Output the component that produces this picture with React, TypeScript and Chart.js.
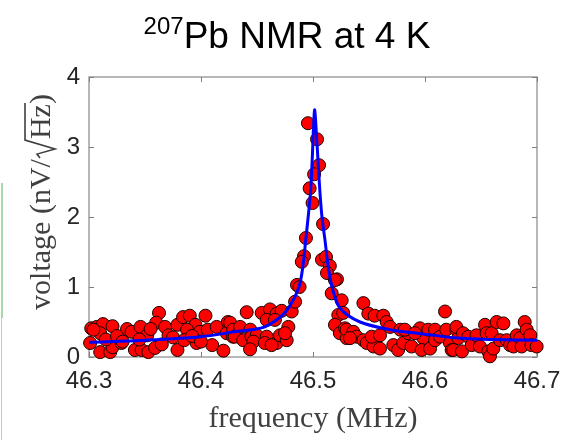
import React, { useEffect, useRef } from "react";
import { Chart, registerables } from "chart.js";

Chart.register(...registerables);

// measured points (MHz, nV/sqrt(Hz))
const freq: number[] = [
  46.302, 46.307, 46.3125, 46.321, 46.301, 46.31, 46.31, 46.319, 46.321, 46.329,
  46.334, 46.338, 46.346, 46.341, 46.347, 46.353, 46.359, 46.352, 46.3625, 46.36,
  46.368, 46.371, 46.379, 46.379, 46.384, 46.39, 46.395, 46.3875, 46.396, 46.404,
  46.399, 46.406, 46.41, 46.414, 46.42, 46.424, 46.423, 46.4285, 46.432,
  46.304, 46.315, 46.325, 46.33, 46.345, 46.355, 46.365, 46.375, 46.385, 46.392, 46.4,
  46.4408, 46.4542, 46.4616, 46.4676, 46.472, 46.4587, 46.466, 46.481, 46.484,
  46.426, 46.4288, 46.435, 46.444, 46.43, 46.4377, 46.445, 46.4497, 46.4467, 46.4438,
  46.4587, 46.457, 46.4676, 46.463, 46.4705, 46.4765, 46.478, 46.475,
  46.4955, 46.5036, 46.5054, 46.501, 46.497, 46.4996, 46.509, 46.4937, 46.492, 46.49,
  46.508, 46.5116, 46.515, 46.5125, 46.5214, 46.4857, 46.488,
  46.5196, 46.5167, 46.5226, 46.5196, 46.524, 46.5286, 46.53,
  46.5256, 46.527, 46.545, 46.5494, 46.555, 46.5628, 46.5658, 46.5688, 46.53, 46.536,
  46.539, 46.533, 46.545, 46.548, 46.554, 46.5598, 46.5524, 46.5598, 46.5717, 46.576,
  46.5806, 46.585, 46.588, 46.5955, 46.5985, 46.597, 46.6045, 46.603, 46.609, 46.609,
  46.6134, 46.6179, 46.619, 46.6223, 46.6238, 46.628, 46.6298, 46.578, 46.582, 46.591,
  46.628, 46.634, 46.6253, 46.633, 46.6387, 46.6417, 46.646, 46.649, 46.6536, 46.655,
  46.6565, 46.658, 46.661, 46.6595, 46.664, 46.67, 46.667, 46.673, 46.676, 46.679,
  46.682, 46.685, 46.6863, 46.689, 46.6908, 46.694, 46.695, 46.6997,
];
const volt: number[] = [
  0.41, 0.43, 0.47, 0.44, 0.2, 0.34, 0.07, 0.07, 0.14, 0.2,
  0.4, 0.36, 0.43, 0.1, 0.1, 0.07, 0.13, 0.31, 0.63, 0.49,
  0.43, 0.31, 0.1, 0.46, 0.57, 0.59, 0.46, 0.39, 0.2, 0.59,
  0.36, 0.39, 0.17, 0.43, 0.09, 0.5, 0.34, 0.29, 0.39,
  0.39, 0.25, 0.3, 0.22, 0.25, 0.4, 0.18, 0.28, 0.24, 0.3, 0.22,
  0.64, 0.63, 0.68, 0.62, 0.66, 0.53, 0.53, 0.65, 0.79,
  0.49, 0.39, 0.43, 0.39, 0.29, 0.24, 0.29, 0.31, 0.22, 0.11,
  0.29, 0.2, 0.2, 0.17, 0.31, 0.24, 0.43, 0.34,
  3.34, 3.11, 2.74, 2.61, 2.41, 2.2, 1.9, 1.7, 1.44, 1.36,
  1.39, 1.43, 1.3, 1.2, 1.11, 1.03, 1.0,
  1.1, 0.91, 0.6, 0.46, 0.34, 0.41, 0.27,
  0.81, 0.63, 0.77, 0.62, 0.59, 0.59, 0.5, 0.43, 0.39, 0.36,
  0.29, 0.27, 0.24, 0.2, 0.15, 0.12, 0.29, 0.31, 0.17, 0.1,
  0.2, 0.34, 0.15, 0.41, 0.27, 0.1, 0.12, 0.39, 0.39, 0.24,
  0.29, 0.65, 0.39, 0.2, 0.1, 0.39, 0.27, 0.39, 0.39, 0.34,
  0.43, 0.34, 0.1, 0.08, 0.29, 0.17, 0.31, 0.15, 0.46, 0.34,
  0.08, 0.01, 0.12, 0.34, 0.5, 0.48, 0.24, 0.24, 0.17, 0.15,
  0.31, 0.27, 0.15, 0.5, 0.39, 0.31, 0.17, 0.15,
];

// fitted curve
const fitFreq: number[] = [
  46.3, 46.35, 46.4, 46.43, 46.455, 46.47, 46.479, 46.4875, 46.491, 46.4937,
  46.496, 46.498, 46.4995, 46.5005, 46.5015, 46.503, 46.5045, 46.506, 46.508, 46.5107,
  46.5135, 46.517, 46.524, 46.542, 46.569, 46.598, 46.629, 46.66, 46.7,
];
const fitVolt: number[] = [
  0.21, 0.24, 0.29, 0.36, 0.42, 0.56, 0.72, 1.0, 1.3, 1.7,
  2.05, 2.4, 2.9, 3.3, 3.53, 3.2, 2.8, 2.4, 2.0, 1.67,
  1.3, 1.0, 0.7, 0.5, 0.39, 0.33, 0.27, 0.25, 0.24,
];

const xTicks: number[] = [46.3, 46.4, 46.5, 46.6, 46.7];
const yTicks: number[] = [0, 1, 2, 3, 4];

const titleSup = "207";
const titleMain = "Pb NMR at 4 K";
const xLabel = "frequency (MHz)";
const yLabelPre = "voltage (nV/";
const yLabelRoot = "Hz";
const yLabelPost = ")";

const SANS = '"Liberation Sans", Arial, sans-serif';
const SERIF = '"Liberation Serif", "Times New Roman", serif';

const decorPlugin = {
  id: "decor",
  beforeDatasetsDraw(chart: any) {
    const { ctx, chartArea } = chart;
    const { left, right, top, bottom } = chartArea;
    const xs = chart.scales.x;
    const ys = chart.scales.y;
    ctx.save();
    ctx.strokeStyle = "#a0a0a0";
    ctx.lineWidth = 1.5;
    ctx.strokeRect(left, top, right - left, bottom - top);
    ctx.lineWidth = 1;
    ctx.strokeStyle = "#808080";
    const tl = 5;
    ctx.beginPath();
    for (const v of xTicks) {
      const px = Math.round(xs.getPixelForValue(v)) + 0.5;
      ctx.moveTo(px, bottom);
      ctx.lineTo(px, bottom - tl);
      ctx.moveTo(px, top);
      ctx.lineTo(px, top + tl);
    }
    for (const v of yTicks) {
      const py = Math.round(ys.getPixelForValue(v)) + 0.5;
      ctx.moveTo(left, py);
      ctx.lineTo(left + tl, py);
      ctx.moveTo(right, py);
      ctx.lineTo(right - tl, py);
    }
    ctx.stroke();
    ctx.restore();
  },
  afterDraw(chart: any) {
    const { ctx } = chart;
    ctx.save();
    // title
    ctx.fillStyle = "#000";
    ctx.textBaseline = "alphabetic";
    ctx.font = `24px ${SANS}`;
    const wSup = ctx.measureText(titleSup).width;
    ctx.font = `37px ${SANS}`;
    const wMain = ctx.measureText(titleMain).width;
    const cx = 287;
    const x0 = cx - (wSup + wMain) / 2;
    const base = 48;
    ctx.font = `24px ${SANS}`;
    ctx.fillText(titleSup, x0, base - 14);
    ctx.font = `37px ${SANS}`;
    ctx.fillText(titleMain, x0 + wSup, base);

    // x label
    ctx.fillStyle = "#404040";
    ctx.font = `30px ${SERIF}`;
    ctx.textAlign = "center";
    ctx.fillText(xLabel, 313, 427);

    // y label (rotated)
    ctx.translate(50, 202);
    ctx.rotate(-Math.PI / 2);
    ctx.textAlign = "left";
    ctx.font = `30px ${SERIF}`;
    const wPre = ctx.measureText(yLabelPre).width;
    const wRootSign = 20;
    const wRoot = ctx.measureText(yLabelRoot).width;
    const wPost = ctx.measureText(yLabelPost).width;
    const total = wPre + wRootSign + wRoot + wPost;
    let x = -total / 2;
    ctx.fillText(yLabelPre, x, 0);
    x += wPre;
    // radical sign
    ctx.strokeStyle = "#404040";
    ctx.lineWidth = 1.6;
    ctx.beginPath();
    ctx.moveTo(x + 1, -10);
    ctx.lineTo(x + 5, -13);
    ctx.lineTo(x + 10, 5);
    ctx.lineTo(x + wRootSign - 1, -25);
    ctx.lineTo(x + wRootSign + wRoot + 1, -25);
    ctx.stroke();
    x += wRootSign;
    ctx.fillText(yLabelRoot, x, 0);
    x += wRoot;
    ctx.fillText(yLabelPost, x, 0);
    ctx.restore();
  },
};

export default function App() {
  const ref = useRef<HTMLCanvasElement | null>(null);
  useEffect(() => {
    if (!ref.current) return;
    const points = freq.map((f, i) => ({ x: f, y: volt[i] }));
    const fit = fitFreq.map((f, i) => ({ x: f, y: fitVolt[i] }));
    const chart = new Chart(ref.current, {
      type: "scatter",
      data: {
        datasets: [
          {
            label: "fit",
            data: fit,
            showLine: true,
            borderColor: "#0000ff",
            borderWidth: 3,
            pointRadius: 0,
            fill: false,
            tension: 0.3,
            order: 0,
            clip: false,
          } as any,
          {
            label: "data",
            data: points,
            backgroundColor: "#ff0000",
            borderColor: "#1a0000",
            borderWidth: 1,
            pointRadius: 6.5,
            order: 1,
            clip: false,
          } as any,
        ],
      },
      options: {
        responsive: false,
        animation: false,
        layout: { padding: { top: 77, right: 24, left: 0, bottom: 0 } },
        plugins: {
          legend: { display: false },
          tooltip: { enabled: false },
          title: { display: false },
        },
        scales: {
          x: {
            type: "linear",
            min: 46.3,
            max: 46.7,
            afterFit: (s: any) => {
              s.height = 83;
              s.paddingLeft = 0;
              s.paddingRight = 0;
            },
            afterBuildTicks: (s: any) => {
              s.ticks = xTicks.map((v) => ({ value: v }));
            },
            grid: { display: false, drawTicks: false },
            border: { display: false },
            ticks: {
              padding: 10,
              color: "#262626",
              font: { family: SANS, size: 24 },
              maxRotation: 0,
              autoSkip: false,
              callback: (v: any) => Number(v).toFixed(1),
            },
          },
          y: {
            type: "linear",
            min: 0,
            max: 4,
            afterFit: (s: any) => {
              s.width = 89;
              s.paddingTop = 0;
              s.paddingBottom = 0;
            },
            afterBuildTicks: (s: any) => {
              s.ticks = yTicks.map((v) => ({ value: v }));
            },
            grid: { display: false, drawTicks: false },
            border: { display: false },
            ticks: {
              padding: 9,
              color: "#262626",
              font: { family: SANS, size: 24 },
              autoSkip: false,
              callback: (v: any) => String(v),
            },
          },
        },
      },
      plugins: [decorPlugin],
    });
    return () => chart.destroy();
  }, []);

  return (
    <div style={{ position: "fixed", left: 0, top: 0, width: 561, height: 440, background: "#fff" }}>
      <div style={{ position: "absolute", left: 1, top: 183, width: 2, height: 135, background: "#a9d8a9" }} />
      <div style={{ position: "absolute", left: 1, top: 318, width: 1, height: 122, background: "#c8c8c8" }} />
      <canvas ref={ref} width={561} height={440} style={{ display: "block" }} />
    </div>
  );
}
